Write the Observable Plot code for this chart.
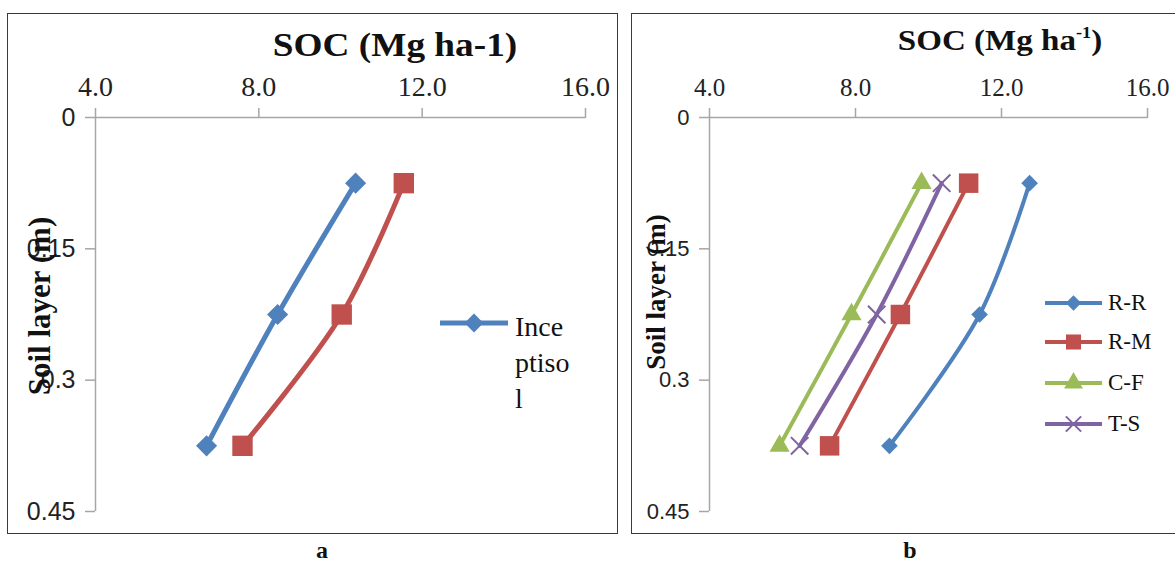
<!DOCTYPE html>
<html>
<head>
<meta charset="utf-8">
<script src="https://cdn.jsdelivr.net/npm/d3@7"></script>
<script src="https://cdn.jsdelivr.net/npm/@observablehq/plot@0.6"></script>
<style>
  html, body { margin: 0; padding: 0; background: #fff; }
  #root { position: relative; width: 1175px; height: 562px; overflow: hidden; background: #fff;
    font-family: "Liberation Serif", "Times New Roman", Tinos, "DejaVu Serif", serif; color: #111; }
  .abs { position: absolute; }
  .center { transform: translate(-50%, -50%); white-space: nowrap; line-height: 1; }
  .frame { position: absolute; border: 1.5px solid #3a3a3a; box-sizing: border-box; }
  .ytitle { position: absolute; font-weight: bold; white-space: nowrap; line-height: 1; transform: translate(-50%, -50%) rotate(-90deg); }
  g[aria-label="x-axis tick label"] { font-family: "Liberation Serif", "Times New Roman", Tinos, "DejaVu Serif", serif !important; }
  g[aria-label="y-axis tick label"] { font-family: "Liberation Sans", Arimo, Arial, sans-serif !important; }
</style>
</head>
<body>
<div id="root"></div>
<script>
// ---------------- data ----------------
const depths = [0.075, 0.225, 0.375];           // soil layer mid-depth (m)
const xTicks = [4, 8, 12, 16];
const yTicks = [0, 0.15, 0.3, 0.45];

// panel a
const seriesA = ["Inceptisol", "Series 2"];
const inceptisol = [10.37, 8.46, 6.72];
const seriesA2 = [11.55, 10.03, 7.60];
const colorsA = ["#4F81BD", "#C0504D"];
const symbolsA = ["diamond2", "square"];

// panel b
const seriesB = ["R-R", "R-M", "C-F", "T-S"];
const rr = [12.77, 11.40, 8.93];
const rm = [11.10, 9.23, 7.29];
const cf = [9.81, 7.89, 5.92];
const ts = [10.36, 8.58, 6.47];
const colorsB = ["#4F81BD", "#C0504D", "#9BBB59", "#8064A2"];
const symbolsB = ["diamond2", "square", "triangle", "times"];

function rowsOf(names, valueLists) {
  const rows = [];
  names.forEach((n, i) => valueLists[i].forEach((v, j) => rows.push({series: n, soc: v, depth: depths[j]})));
  return rows;
}
const rowsA = rowsOf(seriesA, [inceptisol, seriesA2]);
const rowsB = rowsOf(seriesB, [rr, rm, cf, ts]);

const SERIF = '"Liberation Serif", "Times New Roman", Tinos, "DejaVu Serif", serif';
const SANS = '"Liberation Sans", Arimo, Arial, sans-serif';
const root = document.getElementById("root");

function addEl(tag, cls, style, html) {
  const el = document.createElement(tag);
  if (cls) el.className = cls;
  Object.assign(el.style, style);
  if (html != null) el.innerHTML = html;
  root.appendChild(el);
  return el;
}

function panel(cfg) {
  const marks = [
    Plot.ruleY([0], {stroke: "#a6a6a6", strokeWidth: 1.5}),
    Plot.ruleX([4], {stroke: "#a6a6a6", strokeWidth: 1.5}),
    Plot.axisX({anchor: "top", ticks: xTicks, tickFormat: d3.format(".1f"), tickSize: 10, tickPadding: cfg.xPad,
      fontSize: cfg.xFont, fontFamily: SERIF, stroke: "#a6a6a6", strokeWidth: 1.5, fill: "#222", label: null}),
    Plot.axisY({anchor: "left", ticks: yTicks, tickFormat: d => String(d), tickSize: 10, tickPadding: 10,
      fontSize: cfg.yFont, fontFamily: SANS, stroke: "#a6a6a6", strokeWidth: 1.5, fill: "#222", label: null}),
    Plot.line(cfg.rows, {x: "soc", y: "depth", z: "series", stroke: "series", curve: "catmull-rom", strokeWidth: cfg.lineW})
  ];
  cfg.names.forEach((n, i) => {
    const sym = cfg.symbols[i];
    const isStroke = sym === "times";
    marks.push(Plot.dot(cfg.rows.filter(d => d.series === n), {
      x: "soc", y: "depth", symbol: () => sym, r: cfg.radii[i],
      fill: isStroke ? "none" : cfg.colors[i], stroke: isStroke ? cfg.colors[i] : "none", strokeWidth: isStroke ? 2 : 0
    }));
  });
  const chart = Plot.plot({
    width: cfg.width, height: 520,
    marginLeft: cfg.ml, marginRight: cfg.mr, marginTop: 104, marginBottom: 22,
    x: {domain: [4, 16], axis: null},
    y: {domain: [0, 0.45], reverse: true, axis: null},
    color: {domain: cfg.names, range: cfg.colors},
    symbol: {domain: cfg.symbols, range: cfg.symbols},
    style: {background: "transparent", overflow: "visible"},
    marks
  });
  chart.style.position = "absolute";
  chart.style.left = cfg.left + "px";
  chart.style.top = "13px";
  root.appendChild(chart);
}

// frames
addEl("div", "frame", {left: "7px", top: "13px", width: "611px", height: "521px"});
addEl("div", "frame", {left: "631px", top: "13px", width: "560px", height: "521px"});

panel({left: 7, width: 610, ml: 88, mr: 32, rows: rowsA, names: seriesA, colors: colorsA, symbols: symbolsA,
  radii: [9.5, 11.5], lineW: 5, xFont: 28, yFont: 25, xPad: 12});
panel({left: 631, width: 544, ml: 78, mr: 28, rows: rowsB, names: seriesB, colors: colorsB, symbols: symbolsB,
  radii: [7.5, 11, 7.5, 8], lineW: 4, xFont: 25, yFont: 22, xPad: 12});

// titles
addEl("div", "abs center", {left: "395px", top: "45px", fontSize: "33px", fontWeight: "bold",
  transform: "translate(-50%, -50%) scaleX(1.13)"}, "SOC (Mg ha-1)");
addEl("div", "abs center", {left: "1000px", top: "40px", fontSize: "29px", fontWeight: "bold",
  transform: "translate(-50%, -50%) scaleX(1.14)"},
  "SOC (Mg ha<sup style=\"font-size:16px;vertical-align:12px\">-1</sup>)");
addEl("div", "ytitle", {left: "39px", top: "306px", fontSize: "31px"}, "Soil layer (m)");
addEl("div", "ytitle", {left: "656px", top: "292px", fontSize: "27px"}, "Soil layer (m)");

// panel labels
addEl("div", "abs center", {left: "322px", top: "550px", fontSize: "24px", fontWeight: "bold"}, "a");
addEl("div", "abs center", {left: "910px", top: "550px", fontSize: "24px", fontWeight: "bold"}, "b");

// legends
function swatch(color, sym, len, r, lw) {
  const svg = d3.create("svg").attr("width", len).attr("height", 30).style("overflow", "visible");
  svg.append("line").attr("x1", 0).attr("x2", len).attr("y1", 15).attr("y2", 15).attr("stroke", color).attr("stroke-width", lw);
  const symMap = {diamond2: d3.symbolDiamond2, square: d3.symbolSquare, triangle: d3.symbolTriangle, times: d3.symbolTimes};
  const path = d3.symbol(symMap[sym], Math.PI * r * r)();
  const p = svg.append("path").attr("d", path).attr("transform", `translate(${len / 2},15)`);
  if (sym === "times") p.attr("fill", "none").attr("stroke", color).attr("stroke-width", 2);
  else p.attr("fill", color);
  return svg.node();
}

// legend a
const la = addEl("div", "abs", {left: "440px", top: "308px"});
la.appendChild(swatch(colorsA[0], symbolsA[0], 68, 8.5, 5));
la.firstChild.style.position = "absolute";
la.firstChild.style.top = "0px";
addEl("div", "abs", {left: "515px", top: "309px", fontSize: "28px", lineHeight: "36px"}, "Ince<br>ptiso<br>l");

// legend b
seriesB.forEach((n, i) => {
  const top = [303, 342, 383, 424][i];
  const row = addEl("div", "abs", {left: "1045px", top: (top - 15) + "px", height: "30px", display: "flex", alignItems: "center"});
  row.appendChild(swatch(colorsB[i], symbolsB[i], 57, [7, 8.5, 7, 7][i], 4));
  const t = document.createElement("span");
  t.textContent = n;
  t.style.fontSize = "23px";
  t.style.marginLeft = "6px";
  row.appendChild(t);
});
</script>
</body>
</html>
